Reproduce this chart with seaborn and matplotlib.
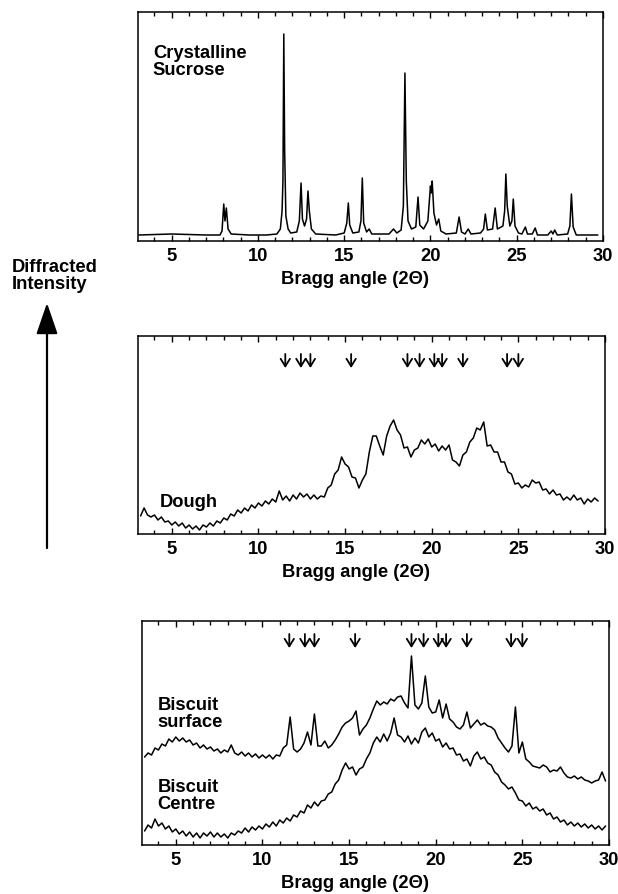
import matplotlib

matplotlib.use("Agg")

import matplotlib.pyplot as plt
import numpy as np
import pandas as pd
import seaborn as sns
from matplotlib.ticker import MultipleLocator


# Crystalline sucrose pattern (angle in degrees 2-theta, intensity in a.u.)
SUCROSE_ANGLE = [
    3.1, 5.0, 7.0, 7.8, 7.92, 8.02, 8.09, 8.17, 8.27, 8.45,
    9.5, 10.5, 11.1, 11.3, 11.4, 11.45, 11.5, 11.55, 11.62, 11.75,
    11.9, 12.25, 12.4, 12.5, 12.58, 12.7, 12.82, 12.9, 12.98, 13.1,
    13.35, 14.5, 15.0, 15.15, 15.24, 15.32, 15.5, 15.85, 15.97, 16.05,
    16.13, 16.3, 16.45, 16.6, 17.6, 17.86, 18.05, 18.3, 18.43, 18.52,
    18.6, 18.7, 18.9, 19.15, 19.28, 19.38, 19.6, 19.85, 20.0, 20.05,
    20.1, 20.2, 20.35, 20.48, 20.6, 20.9, 21.5, 21.66, 21.8, 22.0,
    22.19, 22.35, 22.9, 23.08, 23.18, 23.3, 23.6, 23.75, 23.88, 24.2,
    24.3, 24.37, 24.45, 24.6, 24.72, 24.8, 24.9, 25.1, 25.3, 25.5,
    25.62, 25.9, 26.07, 26.2, 26.8, 27.0, 27.1, 27.2, 27.35, 27.95,
    28.08, 28.17, 28.27, 28.45, 29.7,
]
SUCROSE_COUNTS = [
    6, 7, 6, 6, 10, 37, 20, 33, 12, 7,
    6, 6, 7, 12, 30, 60, 207, 90, 25, 12,
    8, 9, 20, 58, 22, 15, 22, 50, 30, 12,
    7, 6, 8, 18, 38, 16, 8, 9, 20, 63,
    18, 9, 12, 7, 7, 12, 8, 11, 35, 168,
    60, 20, 12, 14, 44, 16, 12, 20, 55, 48,
    60, 28, 16, 22, 10, 7, 8, 24, 9, 7,
    12, 7, 8, 12, 27, 11, 12, 33, 12, 15,
    30, 67, 35, 15, 20, 42, 15, 8, 7, 14,
    7, 7, 13, 6, 6, 10, 7, 11, 6, 7,
    15, 47, 14, 6, 6,
]

# Scans sampled every 0.2 degrees starting at 3.2
SCAN_START = 3.2
SCAN_STEP = 0.2

DOUGH_COUNTS = [
    18, 26, 19, 17, 19, 14, 17, 12, 13, 9,
    12, 8, 11, 6, 9, 5, 8, 4, 9, 7,
    11, 8, 13, 11, 16, 14, 20, 18, 24, 21,
    26, 23, 29, 26, 31, 28, 33, 30, 35, 32,
    43, 34, 38, 33, 39, 35, 41, 37, 40, 35,
    39, 35, 38, 37, 46, 49, 60, 64, 77, 70,
    67, 57, 56, 46, 54, 60, 82, 98, 98, 88,
    79, 98, 108, 114, 104, 99, 86, 87, 77, 84,
    86, 94, 90, 95, 87, 90, 83, 88, 84, 89,
    74, 72, 68, 79, 82, 92, 96, 106, 104, 112,
    88, 89, 82, 82, 72, 72, 62, 60, 50, 51,
    46, 49, 47, 54, 51, 52, 44, 45, 40, 44,
    39, 40, 34, 37, 34, 39, 34, 36, 30, 35,
    32, 36, 33,
]

SURFACE_COUNTS = [
    88, 92, 90, 97, 95, 101, 99, 106, 103, 108,
    104, 107, 103, 105, 100, 102, 97, 100, 96, 98,
    94, 96, 92, 95, 93, 100, 92, 90, 93, 89,
    92, 88, 91, 87, 90, 87, 90, 86, 90, 89,
    97, 100, 128, 96, 93, 96, 102, 113, 100, 131,
    99, 99, 104, 97, 100, 105, 111, 118, 122, 124,
    127, 134, 110, 116, 120, 127, 136, 144, 140, 143,
    141, 146, 144, 148, 149, 142, 137, 189, 140, 136,
    142, 169, 138, 132, 133, 145, 127, 141, 126, 123,
    118, 116, 120, 133, 117, 121, 125, 120, 122, 119,
    118, 115, 107, 102, 97, 93, 99, 138, 92, 103,
    86, 83, 79, 78, 77, 80, 78, 73, 75, 74,
    78, 72, 68, 67, 69, 66, 68, 65, 64, 62,
    64, 65, 73, 64,
]

CENTRE_COUNTS = [
    14, 20, 17, 26, 19, 22, 16, 19, 13, 16,
    11, 14, 9, 13, 8, 12, 7, 12, 9, 13,
    8, 12, 8, 11, 7, 12, 10, 14, 12, 17,
    13, 18, 15, 19, 16, 21, 18, 23, 19, 25,
    22, 27, 24, 30, 28, 34, 32, 40, 37, 43,
    39, 44, 45, 51, 53, 61, 65, 75, 82, 76,
    78, 70, 76, 78, 86, 92, 102, 108, 103, 111,
    104, 112, 127, 110, 108, 103, 109, 101, 107, 102,
    113, 117, 108, 112, 104, 106, 98, 102, 96, 97,
    90, 91, 84, 86, 79, 89, 93, 86, 88, 82,
    80, 73, 70, 63, 60, 56, 58, 52, 45, 44,
    39, 42, 36, 38, 34, 36, 30, 32, 26, 28,
    23, 25, 20, 23, 19, 22, 18, 21, 17, 20,
    16, 19, 15, 19,
]

# Sucrose reflections marked with arrows in the lower panels
SUCROSE_MARKS = [11.55, 12.45, 13.0, 15.35, 18.6, 19.3, 20.15, 20.6, 21.8, 24.35, 25.0]
TICK_LABELS = [5, 10, 15, 20, 25, 30]

FONT = 13.2
W, H = 618, 895


def _scan_angles(values):
    return np.round(SCAN_START + SCAN_STEP * np.arange(len(values)), 2)


def _panel(fig, left, top, right, bottom, xlim, ylim):
    ax = fig.add_axes([left / W, 1 - bottom / H, (right - left) / W, (bottom - top) / H])
    ax.set_xlim(*xlim)
    ax.set_ylim(*ylim)
    ax.set_xticks(TICK_LABELS)
    ax.xaxis.set_minor_locator(MultipleLocator(1))
    ax.tick_params(axis="x", which="both", direction="in", top=True, bottom=True,
                   width=1.0, color="black", labelcolor="black", labelsize=FONT, pad=4)
    ax.tick_params(axis="x", which="major", length=4.5)
    ax.tick_params(axis="x", which="minor", length=3)
    ax.set_yticks([])
    for label in ax.get_xticklabels():
        label.set_fontweight("bold")
    for spine in ax.spines.values():
        spine.set_linewidth(1.1)
        spine.set_color("black")
    return ax


def _trace(ax, angles, counts):
    frame = pd.DataFrame({"angle": angles, "counts": counts})
    sns.lineplot(data=frame, x="angle", y="counts", ax=ax, color="black",
                 linewidth=1.1, estimator=None, errorbar=None)
    ax.set_ylabel("")


def _xlabel(ax, xpos):
    ax.set_xlabel("Bragg angle (2\u0398)", fontsize=FONT, fontweight="bold", labelpad=5,
                  x=xpos, color="black")


def _marks(ax, top, tip):
    for angle in SUCROSE_MARKS:
        ax.annotate("", xy=(angle, tip), xytext=(angle, top),
                    arrowprops=dict(arrowstyle="->,head_length=0.45,head_width=0.28",
                                    lw=1.3, color="black", shrinkA=0, shrinkB=0))


def main() -> None:
    sns.set_theme(style="ticks")
    plt.rcParams["font.family"] = ["Liberation Sans", "DejaVu Sans"]
    plt.rcParams["font.weight"] = "bold"
    plt.rcParams["text.color"] = "black"
    plt.rcParams["axes.labelcolor"] = "black"

    fig = plt.figure(figsize=(W / 100, H / 100), dpi=100)

    ax1 = _panel(fig, 138, 13, 603, 242, (3.05, 29.7), (0, 229))
    _trace(ax1, SUCROSE_ANGLE, SUCROSE_COUNTS)
    _xlabel(ax1, 0.467)
    ax1.text(0.032, 0.86, "Crystalline\nSucrose", transform=ax1.transAxes, ha="left", va="top",
             fontsize=FONT, fontweight="bold", linespacing=1.0)

    ax2 = _panel(fig, 138, 337, 605, 535, (3.05, 29.8), (0, 198))
    _trace(ax2, _scan_angles(DOUGH_COUNTS), DOUGH_COUNTS)
    _marks(ax2, 180, 166)
    _xlabel(ax2, 0.467)
    ax2.text(0.046, 0.14, "Dough", transform=ax2.transAxes, ha="left", va="baseline",
             fontsize=FONT, fontweight="bold")

    ax3 = _panel(fig, 142, 622, 609, 846, (3.05, 30.0), (0, 224))
    _trace(ax3, _scan_angles(SURFACE_COUNTS), SURFACE_COUNTS)
    _trace(ax3, _scan_angles(CENTRE_COUNTS), CENTRE_COUNTS)
    _marks(ax3, 211, 197)
    _xlabel(ax3, 0.456)
    ax3.text(0.033, 0.665, "Biscuit\nsurface", transform=ax3.transAxes, ha="left", va="top",
             fontsize=FONT, fontweight="bold", linespacing=1.0)
    ax3.text(0.033, 0.30, "Biscuit\nCentre", transform=ax3.transAxes, ha="left", va="top",
             fontsize=FONT, fontweight="bold", linespacing=1.0)

    # shared intensity axis on the left
    fig.text(12 / W, 1 - 259 / H, "Diffracted\nIntensity", ha="left", va="top",
             fontsize=FONT, fontweight="bold", linespacing=1.0)
    ax1.annotate("", xy=(47 / W, 1 - 304 / H), xytext=(47 / W, 1 - 549 / H),
                 xycoords="figure fraction", textcoords="figure fraction",
                 arrowprops=dict(arrowstyle="-|>,head_length=1.6,head_width=0.55",
                                 lw=1.6, color="black", shrinkA=0, shrinkB=0))

    fig.savefig("out.png", dpi=100)
    plt.close(fig)


if __name__ == "__main__":
    main()
